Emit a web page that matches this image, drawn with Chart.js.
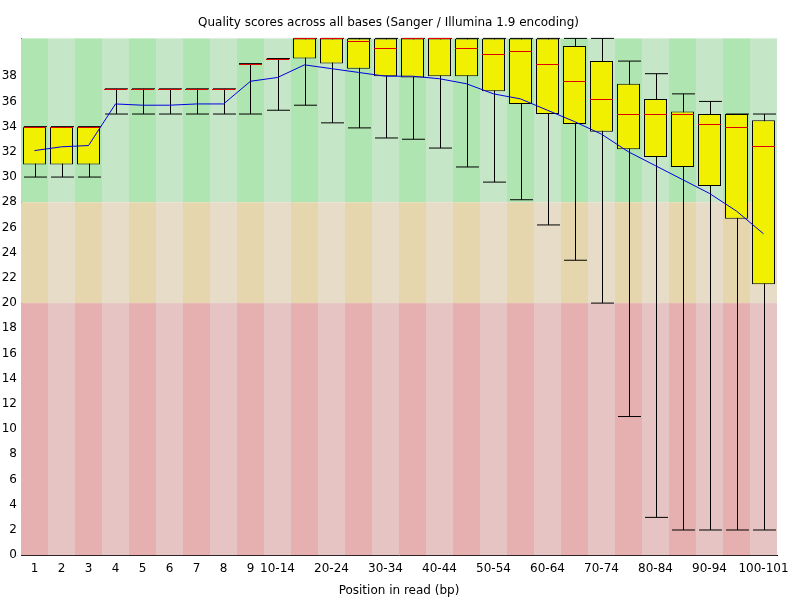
<!DOCTYPE html>
<html><head><meta charset="utf-8">
<script src="https://cdn.jsdelivr.net/npm/chart.js@4"></script>
<style>body{margin:0;background:#fff}canvas{display:block}</style>
</head><body>
<canvas id="c" width="800" height="600"></canvas>
<script>
const categories=['1','2','3','4','5','6','7','8','9','10-14','15-19','20-24','25-29','30-34','35-39','40-44','45-49','50-54','55-59','60-64','65-69','70-74','75-79','80-84','85-89','90-94','95-99','100-101'];
const lowWhisker=[30,30,30,35,35,35,35,35,35,35.3,35.7,34.3,33.9,33.1,33.0,32.3,30.8,29.6,28.2,26.2,23.4,20.0,11.0,3.0,2,2,2,2];
const q1=[31,31,31,37,37,37,37,37,39,39.3,39.4,39.0,38.6,38.0,37.9,38.0,38.0,36.8,35.8,35.0,34.2,33.6,32.2,31.6,30.8,29.3,26.7,21.5];
const median=[34,34,34,37,37,37,37,37,39,39.4,41,41,40.8,40.2,41,41,40.2,39.8,40.0,39.0,37.6,36.2,35.0,35.0,35.0,34.2,34.0,32.5];
const q3=[34,34,34,37,37,37,37,37,39,39.4,41,41,41,41,41,41,41,41,41,41,40.4,39.2,37.4,36.2,35.2,35.0,35.0,34.5];
const highWhisker=[34,34,34,37,37,37,37,37,39,39.4,41,41,41,41,41,41,41,41,41,41,41,41,39.2,38.2,36.6,36.0,35.0,35.0];
const meanQ=[32.1,32.4,32.5,35.8,35.7,35.7,35.8,35.8,37.6,37.9,38.9,38.6,38.3,38.0,38.0,37.8,37.4,36.6,36.2,35.3,34.4,33.4,32.0,30.9,29.8,28.7,27.3,25.5];
const zones=[{from:28,to:41,c:['#afe5b0','#c6e7c7']},{from:20,to:28,c:['#e6d6ae','#e6dcc8']},{from:0,to:20,c:['#e6b0b0','#e6c4c4']}];

const boxPlugin={
  id:'box',
  beforeDatasetsDraw(chart){
    const {ctx,chartArea:a,scales:{x,y}}=chart;
    const w=x.getPixelForValue(1)-x.getPixelForValue(0);
    ctx.save();
    categories.forEach((c,i)=>{
      const cx=x.getPixelForValue(i);
      zones.forEach(z=>{
        ctx.fillStyle=z.c[i%2];
        const t=y.getPixelForValue(z.to),b=y.getPixelForValue(z.from);
        ctx.fillRect(cx-w/2,t,w,b-t);
      });
    });
    ctx.strokeStyle='#000';ctx.lineWidth=1;
    const bw=w*0.85;
    categories.forEach((c,i)=>{
      const cx=Math.round(x.getPixelForValue(i))+0.5;
      const lo=y.getPixelForValue(lowWhisker[i]),hi=y.getPixelForValue(highWhisker[i]);
      ctx.beginPath();ctx.moveTo(cx,lo);ctx.lineTo(cx,hi);
      ctx.moveTo(cx-bw/2,lo);ctx.lineTo(cx+bw/2,lo);
      ctx.moveTo(cx-bw/2,hi);ctx.lineTo(cx+bw/2,hi);
      ctx.stroke();
    });
    ctx.restore();
  },
  afterDatasetDraw(chart,args){
    if(args.index!==0)return;
    const {ctx,scales:{x,y}}=chart;
    const w=x.getPixelForValue(1)-x.getPixelForValue(0);const bw=w*0.85;
    ctx.save();ctx.strokeStyle='#e00000';ctx.lineWidth=1;
    categories.forEach((c,i)=>{
      const cx=x.getPixelForValue(i);const m=Math.round(y.getPixelForValue(median[i]))+0.5;
      ctx.beginPath();ctx.moveTo(cx-bw/2,m);ctx.lineTo(cx+bw/2,m);ctx.stroke();
    });
    ctx.restore();
  }
};

new Chart(document.getElementById('c'),{
  data:{labels:categories,datasets:[
    {type:'bar',order:2,data:categories.map((c,i)=>[q1[i],q3[i]]),backgroundColor:'#f0f000',borderColor:'#000',borderWidth:1,borderSkipped:false,barPercentage:0.85,categoryPercentage:1},
    {type:'line',order:1,data:meanQ,borderColor:'#0000e0',borderWidth:1,pointRadius:0,tension:0}
  ]},
  options:{responsive:false,animation:false,
    layout:{padding:{left:0,right:23,top:0,bottom:0}},
    plugins:{legend:{display:false},tooltip:{enabled:false},
      title:{display:true,text:'Quality scores across all bases (Sanger / Illumina 1.9 encoding)',color:'#000',font:{family:'DejaVu Sans',size:12,weight:'normal'},padding:{top:16,bottom:8}}},
    scales:{
      x:{grid:{display:false,drawTicks:false},border:{color:'#000'},
        ticks:{color:'#000',font:{family:'DejaVu Sans',size:12},maxRotation:0,autoSkip:false,padding:6,
          callback:(v,i)=>(i>=10&&(i-9)%2===1)?'':categories[i]},
        title:{display:true,text:'Position in read (bp)',color:'#000',font:{family:'DejaVu Sans',size:12},padding:{top:2,bottom:2}}},
      y:{min:0,max:41,grid:{display:false,drawTicks:false},border:{color:'#000'},
        ticks:{stepSize:2,color:'#000',font:{family:'DejaVu Sans',size:12},padding:4,callback:v=>v%2===0?v:''},
        afterFit(s){s.width=21;}}
    }
  },
  plugins:[boxPlugin]
});
</script>
</body></html>
